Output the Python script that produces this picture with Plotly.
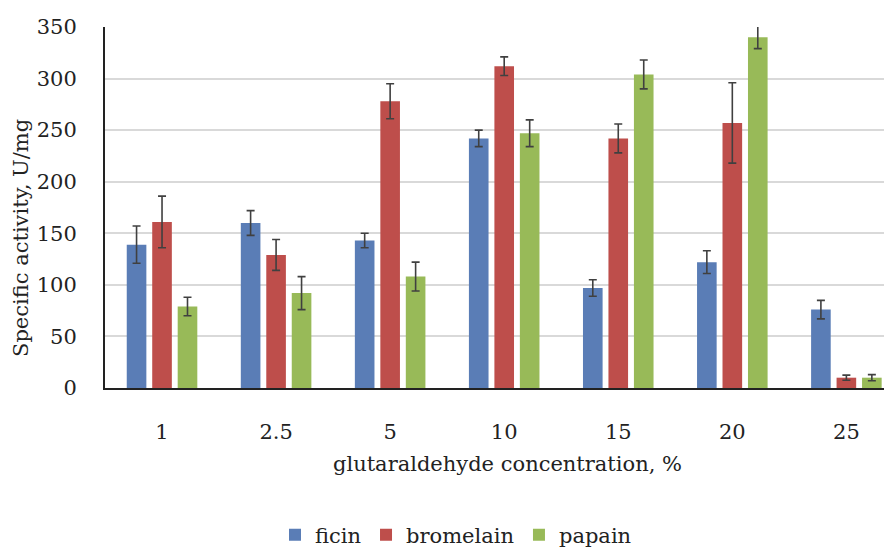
import plotly.graph_objects as go

categories = ["1", "2.5", "5", "10", "15", "20", "25"]
ficin = [139, 160, 143, 242, 97, 122, 76]
ficin_err = [18, 12, 7, 8, 8, 11, 9]
bromelain = [161, 129, 278, 312, 242, 257, 10]
bromelain_err = [25, 15, 17, 9, 14, 39, 2.5]
papain = [79, 92, 108, 247, 304, 340, 10]
papain_err = [9, 16, 14, 13, 14, 11, 3]

FONT = "DejaVu Serif, serif"
colors = ["#5A7DB6", "#BE4E4B", "#98BA58"]

# page body has an 8px default margin: figure is drawn 8px in from the top-left
W, H = 884, 541
L, T = 97, 19
PLOT_W, PLOT_H = W - L, 361
B = H - T - PLOT_H

fig = go.Figure()
for name, vals, errs, col in [("ficin", ficin, ficin_err, colors[0]),
                              ("bromelain", bromelain, bromelain_err, colors[1]),
                              ("papain", papain, papain_err, colors[2])]:
    fig.add_trace(go.Bar(
        x=categories, y=vals, name=name, marker_color=col, marker_line_width=0,
        cliponaxis=False,
        error_y=dict(type="data", array=errs, visible=True, color="#404040",
                     thickness=1.6, width=4),
    ))

fig.update_layout(
    width=W, height=H,
    margin=dict(l=L, r=0, t=T, b=B, autoexpand=False),
    paper_bgcolor="white", plot_bgcolor="white",
    barmode="group", bargap=0.33, bargroupgap=0.23,
    font=dict(family=FONT, size=21, color="#222222"),
    showlegend=True,
    legend=dict(orientation="h", x=(456 - 105) / PLOT_W, xanchor="center",
                y=(388 - 535) / PLOT_H, yanchor="middle",
                font=dict(family=FONT, size=21, color="#222222"),
                itemwidth=30, traceorder="normal"),
    xaxis=dict(type="category", range=[-0.5, 6.4], showgrid=False, automargin=False,
               showline=True, linecolor="#222222", linewidth=2,
               ticks="", ticklabelstandoff=24,
               tickfont=dict(family=FONT, size=21)),
    yaxis=dict(range=[0, 350], dtick=50, showgrid=True, gridcolor="#d9d9d9", gridwidth=1.5,
               showline=True, linecolor="#222222", linewidth=2, zeroline=False,
               automargin=False, ticks="", ticklabelstandoff=22,
               tickfont=dict(family=FONT, size=21)),
    annotations=[
        dict(text="glutaraldehyde concentration, %", xref="paper", yref="paper",
             x=(507 - 105) / PLOT_W, y=(388 - 464) / PLOT_H, xanchor="center", yanchor="middle",
             showarrow=False, font=dict(family=FONT, size=21, color="#222222")),
        dict(text="Specific activity, U/mg", xref="paper", yref="paper",
             x=(21 - 105) / PLOT_W, y=(388 - 238) / PLOT_H, xanchor="center", yanchor="middle",
             textangle=-90, showarrow=False, font=dict(family=FONT, size=21, color="#222222")),
    ],
)

fig.write_html("out.html")
